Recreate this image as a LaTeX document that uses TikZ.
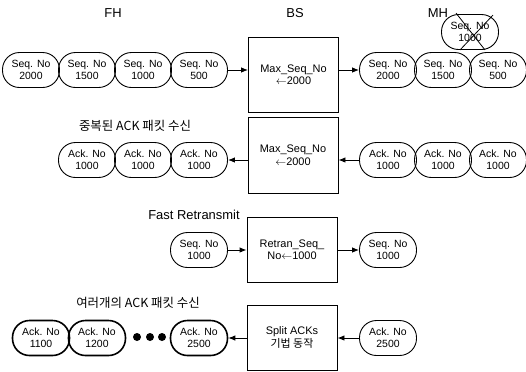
\documentclass[tikz,border=0pt]{standalone}
\usepackage{fontspec}
\setmainfont{Liberation Sans}
\newfontfamily\krfont{Noto Sans CJK KR}
\usetikzlibrary{arrows.meta}

\begin{document}
\begin{tikzpicture}[x=1bp, y=-1bp,
    pkt/.style={draw, rectangle, rounded corners=17bp, line width=0.9bp,
        minimum width=57bp, minimum height=35bp, inner sep=0pt, align=center,
        font=\fontsize{10.5}{12}\selectfont},
    boldpkt/.style={pkt, line width=1.6bp},
    bsbox/.style={draw, line width=0.9bp, minimum width=90bp, align=center,
        font=\fontsize{11}{12.5}\selectfont},
    lbl/.style={font=\fontsize{13}{15}\selectfont},
    krlbl/.style={font=\krfont\fontsize{12.5}{14}\selectfont},
    snd/.style={-{Latex[length=7bp,width=5.5bp]}, line width=0.9bp}]
    \useasboundingbox (0,0) rectangle (526,371);

    % Column titles
    \node[lbl] (fh) at (113,13) {FH};
    \node[lbl] (bs) at (295,13) {BS};
    \node[lbl] (mh) at (438,13) {MH};

    % Data packets from FH, buffered at BS, one lost towards MH
    \foreach \v [count=\i] in {2000,1500,1000,500}
        \node[pkt] (fh\i) at ({31+56*(\i-1)},70) {Seq. No\\\v};
    \node[bsbox, minimum height=75bp] (bs1) at (293.5,74.5)
        {Max\_Seq\_No\\$\leftarrow$2000};
    \foreach \v [count=\i] in {2000,1500,500}
        \node[pkt] (mh\i) at ({388+55*(\i-1)},70) {Seq. No\\\v};
    \node[pkt] (lost) at (470,32) {Seq. No\\1000};
    \draw[line width=0.8bp] ([xshift=-14bp,yshift=1bp]lost.north) -- ([xshift=15bp]lost.south);
    \draw[line width=0.8bp] ([xshift=23bp,yshift=-1bp]lost.north) -- ([xshift=-10bp]lost.south);
    \draw[snd] (fh4.east) -- (fh4.east -| bs1.west);
    \draw[snd] (bs1.east |- mh1.west) -- (mh1.west);

    % Duplicate ACKs
    \node[krlbl] (duptxt) at (135,126) {중복된 ACK 패킷 수신};
    \foreach \i in {1,2,3}
        \node[pkt] (dup\i) at ({87+56*(\i-1)},160) {Ack. No\\1000};
    \node[bsbox, minimum height=76bp] (bs2) at (293,155)
        {Max\_Seq\_No\\$\leftarrow$2000};
    \foreach \i in {1,2,3}
        \node[pkt] (ack\i) at ({388+55*(\i-1)},160) {Ack. No\\1000};
    \draw[snd] (ack1.west) -- (ack1.west -| bs2.east);
    \draw[snd] (bs2.west |- dup3.east) -- (dup3.east);

    % Fast retransmit
    \node[lbl] (frtxt) at (194,215) {Fast Retransmit};
    \node[pkt] (rsnd) at (199,250) {Seq. No\\1000};
    \node[bsbox, minimum height=65bp] (bs3) at (292,249.5)
        {Retran\_Seq\_\\No$\leftarrow$1000};
    \node[pkt] (rtx) at (388,250) {Seq. No\\1000};
    \draw[snd] (rsnd.east) -- (rsnd.east -| bs3.west);
    \draw[snd] (bs3.east |- rtx.west) -- (rtx.west);

    % Split ACKs
    \node[krlbl] (splittxt) at (138,303) {여러개의 ACK 패킷 수신};
    \node[boldpkt] (sa1) at (41,338) {Ack. No\\1100};
    \node[boldpkt] (sa2) at (97,338) {Ack. No\\1200};
    \foreach \x in {137,150,162} \fill (\x,337) circle (4bp);
    \node[boldpkt] (sa3) at (199,338) {Ack. No\\2500};
    \node[bsbox, minimum height=65bp] (bs4) at (292,337.5)
        {Split ACKs\\{\krfont 기법 동작}};
    \node[pkt] (sk) at (388,338) {Ack. No\\2500};
    \draw[snd] (sk.west) -- (sk.west -| bs4.east);
    \draw[snd] (bs4.west |- sa3.east) -- (sa3.east);
\end{tikzpicture}
\end{document}
